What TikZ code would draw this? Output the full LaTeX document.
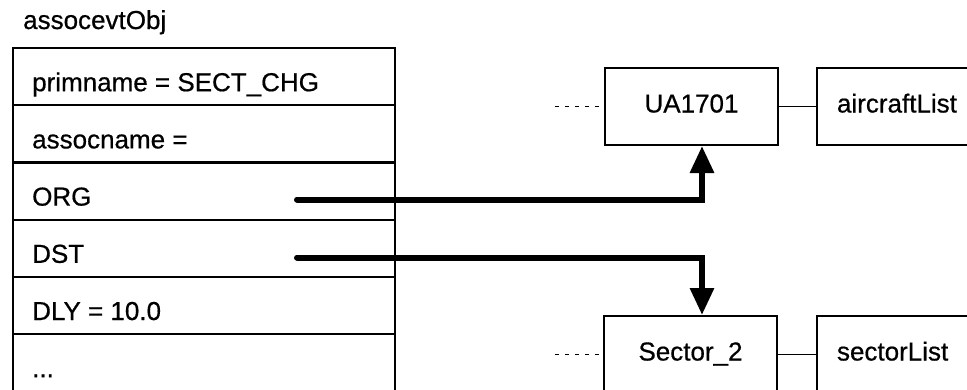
\documentclass[tikz,border=0pt]{standalone}
\usepackage{fontspec}
\setmainfont{Liberation Sans}[FakeBold=0.6]
\usetikzlibrary{arrows.meta,calc}
\begin{document}
\begin{tikzpicture}[x=1pt,y=-1pt,
  txt/.style={font=\fontsize{26}{30}\selectfont, inner sep=0pt},
  rowbox/.style={draw, line width=2.2pt, minimum width=382pt, minimum height=57.2pt, anchor=north west, inner sep=0pt},
  objbox/.style={draw, line width=2pt, minimum width=173pt, minimum height=77pt, font=\fontsize{26}{30}\selectfont, text height=19pt, text depth=7pt},
  listbox/.style={draw, line width=2pt, minimum height=77pt, text width=170pt, inner xsep=20pt, align=left, font=\fontsize{26}{30}\selectfont, text height=19pt, text depth=7pt},
  ptr/.style={line width=6pt, line cap=round, -{Triangle[length=27pt,width=23pt]}},
  link/.style={line width=1.6pt},
  dotlink/.style={line width=1.6pt, dash pattern=on 4pt off 6pt}
]
\useasboundingbox (0,0) rectangle (967,389);
\clip (0,0) rectangle (967,389);
% title
\node[txt, anchor=base west] (title) at (23,29) {assocevtObj};
% rows of the object
\node[rowbox] (r1) at (12,47) {};
\node[rowbox] (r2) at (12,104.2) {};
\node[rowbox] (r3) at (12,161.4) {};
\node[rowbox] (r4) at (12,218.6) {};
\node[rowbox] (r5) at (12,275.8) {};
\node[rowbox] (r6) at (12,333) {};
\node[rowbox, minimum height=62pt] (r7) at (12,390.2) {};
\node[txt, anchor=base west] (l1) at ([xshift=20pt,yshift=-14.5pt]r1.west) {primname = SECT\_CHG};
\node[txt, anchor=base west] (l2) at ([xshift=20pt,yshift=-14.5pt]r2.west) {assocname =};
\node[txt, anchor=base west] (l3) at ([xshift=20pt,yshift=-14.5pt]r3.west) {ORG};
\node[txt, anchor=base west] (l4) at ([xshift=20pt,yshift=-14.5pt]r4.west) {DST};
\node[txt, anchor=base west] (l5) at ([xshift=20pt,yshift=-14.5pt]r5.west) {DLY = 10.0};
\node[txt, anchor=base west] (l6) at ([xshift=20pt,yshift=-14.5pt]r6.west) {...};
% right side objects
\node[objbox] (ua) at (691.5,106.5) {UA1701};
\node[listbox, anchor=west] (acl) at (816,106.5) {aircraftList};
\node[objbox] (sec) at (690.5,354.5) {Sector\_2};
\node[listbox, anchor=west] (scl) at (816,354.5) {sectorList};
\coordinate (dotA) at (555,106.5);
\coordinate (dotB) at (555,354.5);
\draw[dotlink] (dotA) -- (ua.west);
\draw[dotlink] (dotB) -- (sec.west);
\draw[link] (ua) -- (acl);
\draw[link] (sec) -- (scl);
% pointers
\coordinate (orgS) at (297,199.5);
\coordinate (dstS) at (297,257.5);
\draw[ptr] (orgS) -| ([xshift=10.5pt]ua.south);
\draw[ptr] (dstS) -| ([xshift=11.5pt]sec.north);
\end{tikzpicture}
\end{document}
